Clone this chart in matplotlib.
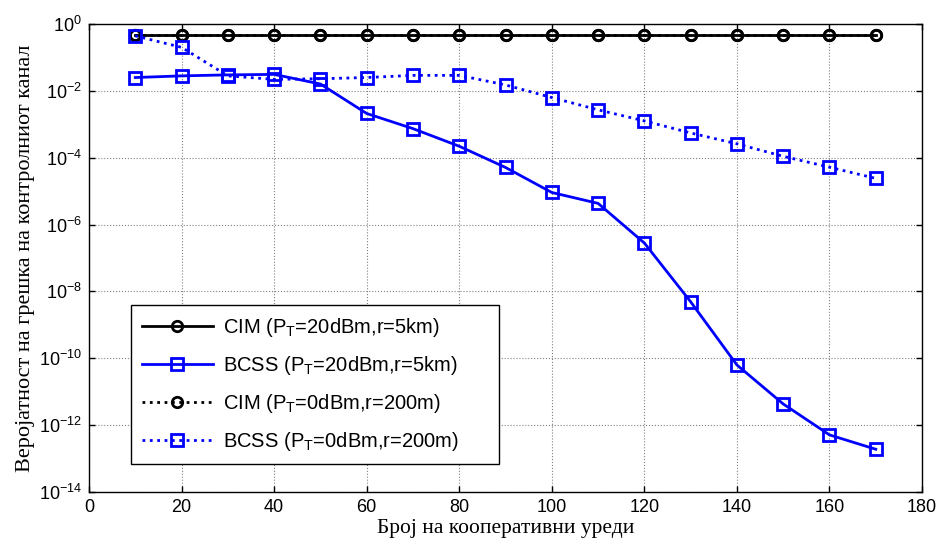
import numpy as np
import matplotlib
matplotlib.use("Agg")
import matplotlib.pyplot as plt
from matplotlib.ticker import FixedLocator, NullLocator, FuncFormatter

plt.rcParams['font.family'] = ['Liberation Sans', 'DejaVu Sans']
plt.rcParams['mathtext.fontset'] = 'custom'
plt.rcParams['mathtext.rm'] = 'Liberation Sans'
plt.rcParams['mathtext.it'] = 'Liberation Sans'

# ─── data ─────────────────────────────────────────────────────
n_coop = [10, 20, 30, 40, 50, 60, 70, 80, 90, 100, 110, 120, 130, 140, 150, 160, 170]

cim_20dbm = [0.47] * 17
cim_0dbm = [0.46] * 17
bcss_20dbm = [0.025, 0.028, 0.030, 0.031, 0.016, 2.1e-3, 7.4e-4, 2.2e-4, 5.1e-5,
              9.1e-6, 4.3e-6, 2.8e-7, 4.9e-9, 6.3e-11, 4.3e-12, 5.1e-13, 1.9e-13]
bcss_0dbm = [0.44, 0.20, 0.028, 0.022, 0.023, 0.025, 0.029, 0.029, 0.015,
             6.3e-3, 2.7e-3, 1.26e-3, 5.5e-4, 2.6e-4, 1.1e-4, 5.2e-5, 2.4e-5]

labels = [r'CIM (P$_{\mathrm{T}}$=20dBm,r=5km)',
          r'BCSS (P$_{\mathrm{T}}$=20dBm,r=5km)',
          r'CIM (P$_{\mathrm{T}}$=0dBm,r=200m)',
          r'BCSS (P$_{\mathrm{T}}$=0dBm,r=200m)']

xticks = list(range(0, 181, 20))
yexps = list(range(-14, 1, 2))

# ─── figure ───────────────────────────────────────────────────
fig = plt.figure(figsize=(9.4, 5.51), dpi=100)
ax = fig.add_axes([0.0947, 0.1071, 0.8862, 0.8494])

blue = '#0000FF'
ax.plot(n_coop, cim_20dbm, '-', color='black', lw=2, marker='o', ms=7.5,
        mfc='none', mew=2, label=labels[0])
ax.plot(n_coop, bcss_20dbm, '-', color=blue, lw=2, marker='s', ms=8.5,
        mfc='none', mew=2, label=labels[1])
ax.plot(n_coop, cim_0dbm, ':', color='black', lw=2, marker='o', ms=7.5,
        mfc='none', mew=2, label=labels[2])
ax.plot(n_coop, bcss_0dbm, ':', color=blue, lw=2, marker='s', ms=8.5,
        mfc='none', mew=2, label=labels[3])

ax.set_yscale('log')
ax.set_xlim(0, 180)
ax.set_ylim(1e-14, 1e0)
ax.xaxis.set_major_locator(FixedLocator(xticks))
ax.yaxis.set_major_locator(FixedLocator([10.0 ** e for e in yexps]))
ax.yaxis.set_minor_locator(NullLocator())
ax.yaxis.set_major_formatter(FuncFormatter(
    lambda v, p: r'$10^{%d}$' % int(round(np.log10(v)))))

ax.grid(True, which='major', color='#808080', ls=':', lw=0.8)
ax.tick_params(direction='in', top=True, right=True, labelsize=13,
               length=4, width=1, pad=5)
for spine in ax.spines.values():
    spine.set_linewidth(1)

ax.set_xlabel('Број на кооперативни уреди', family='Liberation Serif',
              fontsize=15.5, labelpad=2)
ax.set_ylabel('Веројатност на грешка на контролниот канал',
              family='Liberation Serif', fontsize=16, labelpad=3)

leg = ax.legend(loc='lower left', bbox_to_anchor=(0.0504, 0.0598, 0.4418, 0.344),
                mode='expand', fontsize=14.5, frameon=True, fancybox=False,
                framealpha=1, edgecolor='black', handlelength=3.5,
                borderpad=0.55, labelspacing=0.75, handletextpad=0.5,
                borderaxespad=0)
leg.get_frame().set_linewidth(1)

fig.savefig('out.png', dpi=100)
